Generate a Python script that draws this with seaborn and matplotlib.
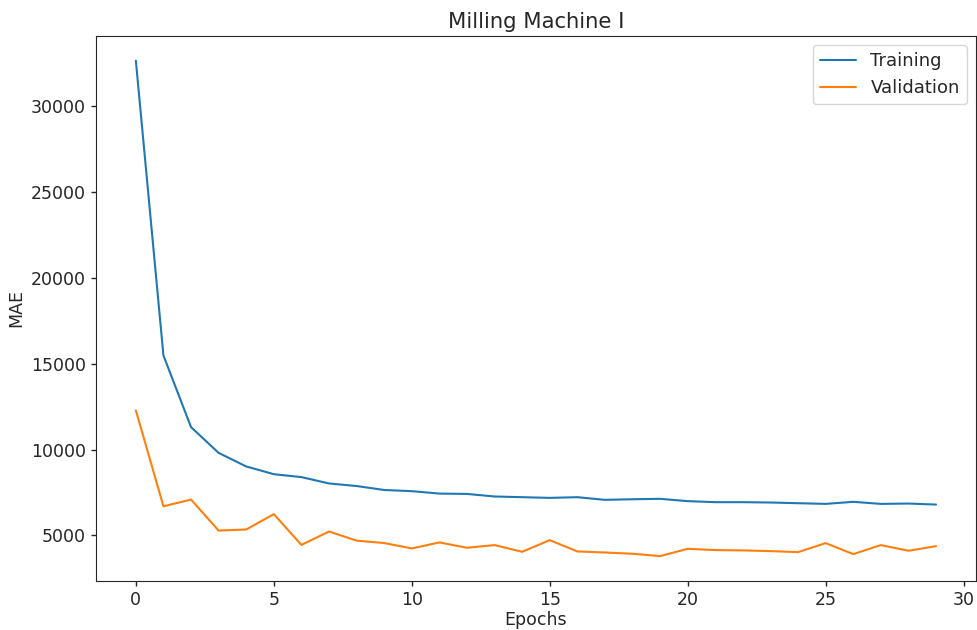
import matplotlib
matplotlib.use("Agg")
import matplotlib.pyplot as plt
import seaborn as sns
import pandas as pd

epochs = list(range(30))
training_mae = [32650, 15480, 11310, 9810, 9020, 8570, 8400, 8030, 7880, 7650,
                7580, 7440, 7420, 7270, 7230, 7190, 7230, 7075, 7110, 7135,
                7000, 6940, 6940, 6920, 6880, 6840, 6960, 6840, 6860, 6800]
validation_mae = [12285, 6700, 7090, 5285, 5350, 6245, 4450, 5230, 4700, 4560,
                  4245, 4595, 4285, 4440, 4050, 4730, 4070, 4010, 3935, 3800,
                  4225, 4150, 4130, 4090, 4030, 4555, 3915, 4440, 4110, 4380]

sns.set_style("ticks")
plt.rcParams["font.family"] = ["DejaVu Sans"]

df = pd.DataFrame({
    "Epochs": epochs * 2,
    "MAE": training_mae + validation_mae,
    "Series": ["Training"] * len(epochs) + ["Validation"] * len(epochs),
})

fig, ax = plt.subplots(figsize=(9.78, 6.30), dpi=100)
sns.lineplot(data=df, x="Epochs", y="MAE", hue="Series",
             palette=["#1f77b4", "#ff7f0e"], linewidth=1.5, ax=ax)

ax.set_title("Milling Machine I", fontsize=15.2, color="#262626")
ax.set_xlabel("Epochs", fontsize=12.5, color="#262626", labelpad=2)
ax.set_ylabel("MAE", fontsize=12.5, color="#262626", labelpad=4)
ax.tick_params(labelsize=12.5, colors="#262626", length=3.5, width=1, pad=3.5)
ax.set_xticks([0, 5, 10, 15, 20, 25, 30])
for s in ax.spines.values():
    s.set_visible(True)
    s.set_color("#262626")

leg = ax.legend(loc="upper right", fontsize=13, frameon=True)
leg.set_title(None)

fig.subplots_adjust(left=0.098, right=0.998, top=0.943, bottom=0.078)
fig.savefig("out.png", dpi=100, facecolor="white")
